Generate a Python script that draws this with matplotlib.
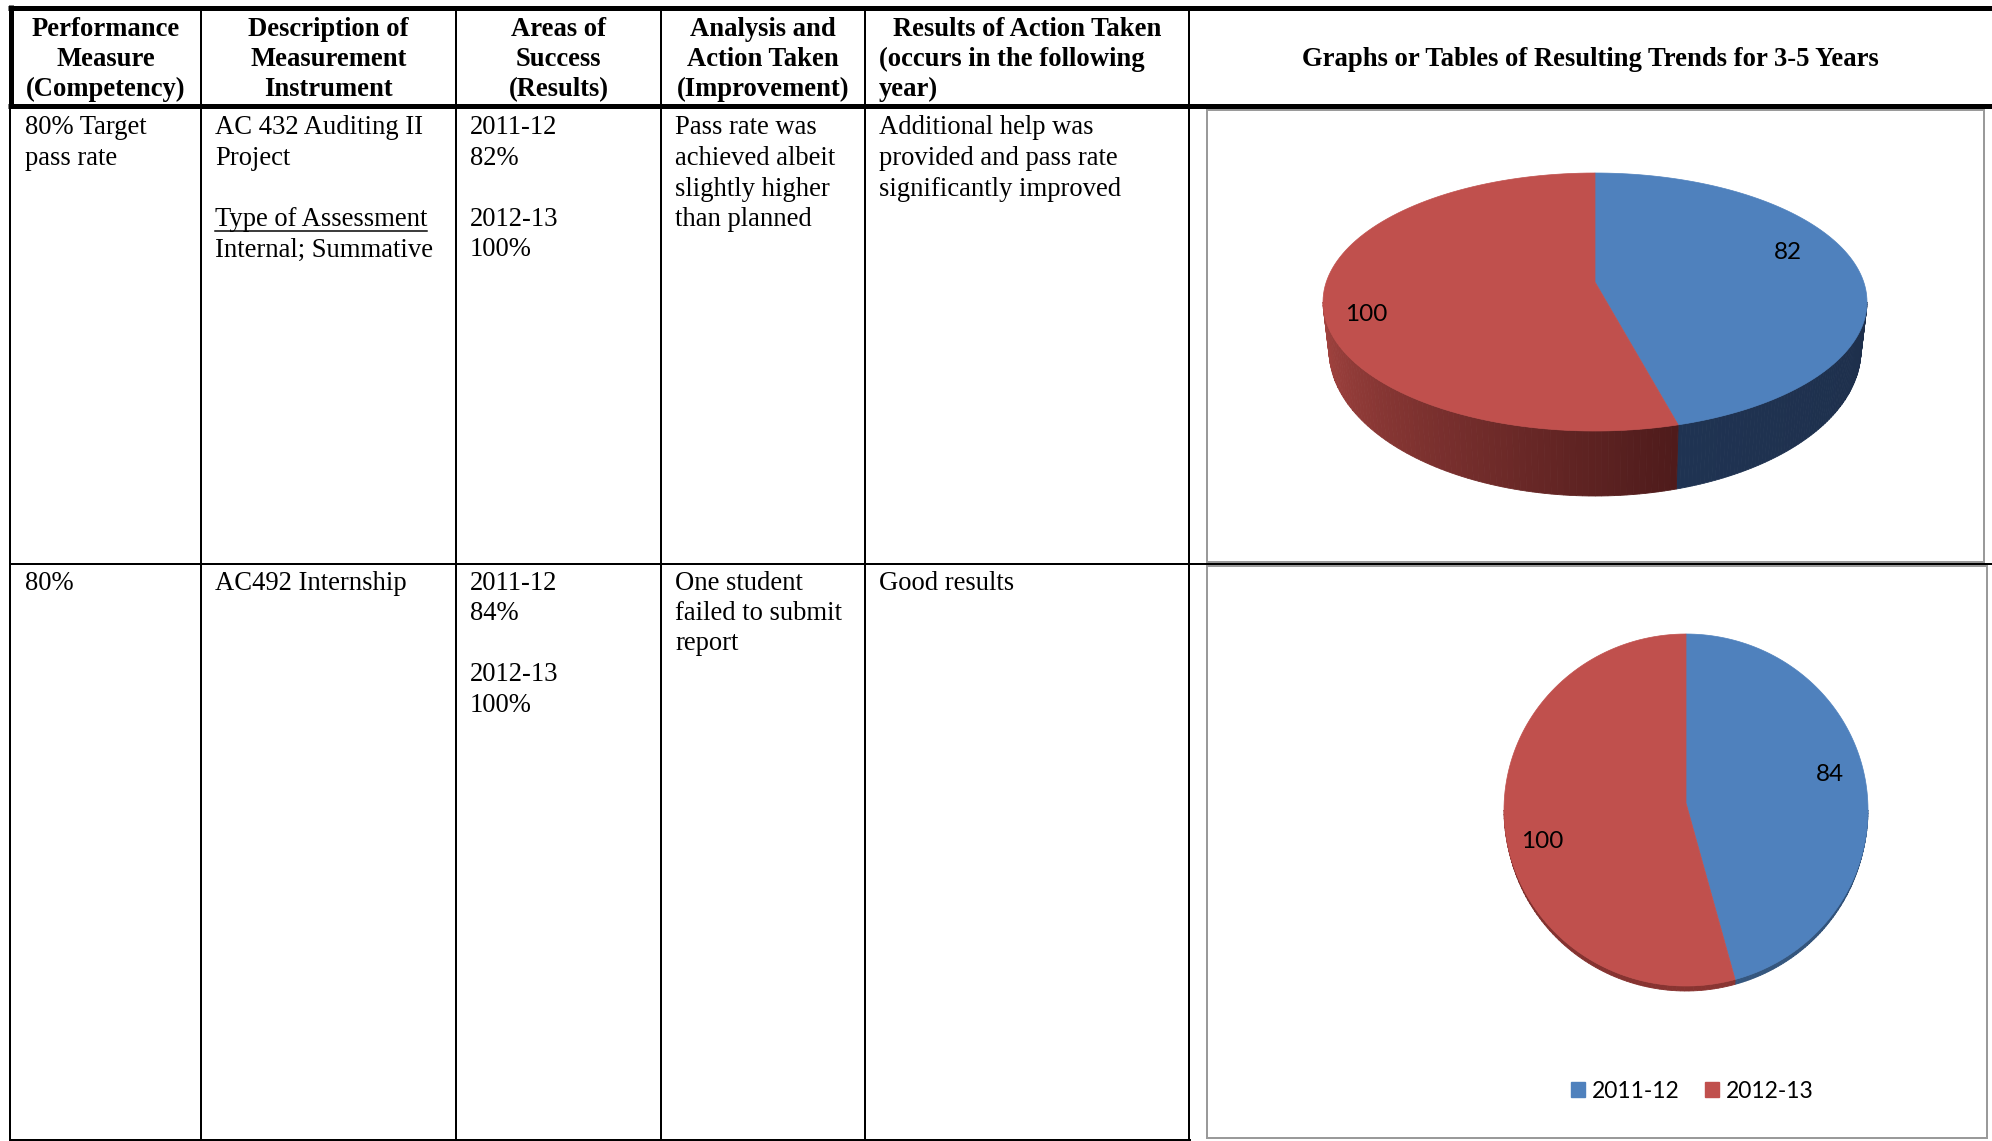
import matplotlib
matplotlib.use("Agg")
import matplotlib.pyplot as plt
import numpy as np
from matplotlib.patches import Polygon, Rectangle, Patch
from matplotlib.colors import to_rgb

# pass rates per academic year
years = ["2011-12", "2012-13"]
auditing_rates = [82, 100]
internship_rates = [84, 100]

slice_colors = ["#4F81BD", "#C0504D"]

header_lines = [
    ["Performance", "Measure", "(Competency)"],
    ["Description of", "Measurement", "Instrument"],
    ["Areas of", "Success", "(Results)"],
    ["Analysis and", "Action Taken", "(Improvement)"],
    ["Results of Action Taken", "(occurs in the following", "year)"],
    ["", "Graphs or Tables of Resulting Trends for 3-5 Years", ""],
]

auditing_row = [
    ["80% Target", "pass rate"],
    ["AC 432 Auditing II", "Project", "", "Type of Assessment", "Internal; Summative"],
    [years[0], f"{auditing_rates[0]}%", "", years[1], f"{auditing_rates[1]}%"],
    ["Pass rate was", "achieved albeit", "slightly higher", "than planned"],
    ["Additional help was", "provided and pass rate", "significantly improved"],
]

internship_row = [
    ["80%"],
    ["AC492 Internship"],
    [years[0], f"{internship_rates[0]}%", "", years[1], f"{internship_rates[1]}%"],
    ["One student", "failed to submit", "report"],
    ["Good results"],
]

W, H = 1992, 1141
col_edges = [10, 201, 456, 661, 865, 1189, 1992]
serif = "Liberation Serif"
fsize = 19.2
line_step = 30.5


def px(w):
    return w * 72 / 100


def mix(c0, c1, f):
    a, b = np.array(to_rgb(c0)), np.array(to_rgb(c1))
    return tuple(a + (b - a) * f)


def arc(cx, cy, a, b, t0, t1, n=120):
    t = np.radians(np.linspace(t0, t1, n))
    return np.column_stack([cx + a * np.cos(t), cy - b * np.sin(t)])


def draw_pie(ax, values, spec):
    cx, cy = spec["center"]
    a, b = spec["radii"]
    bx, by = spec["base_center"]
    ba, bb = spec["base_radii"]
    apex = (cx, cy + spec["apex_dy"])
    total = float(sum(values))
    edges = 90 - 360 * np.concatenate([[0], np.cumsum(values)]) / total

    # visible front wall, drawn as thin strips so it can be shaded
    for i in range(len(values)):
        lo, hi = max(edges[i + 1], -180), min(edges[i], 0)
        if hi <= lo:
            continue
        steps = np.linspace(lo, hi, 80)
        c0, c1 = spec["side"][i]
        for k in range(len(steps) - 1):
            top = arc(cx, cy, a, b, steps[k], steps[k + 1], 4)
            bot = arc(bx, by, ba, bb, steps[k + 1], steps[k], 4)
            col = mix(c0, c1, (k + 0.5) / (len(steps) - 1))
            ax.add_patch(Polygon(np.vstack([top, bot]), closed=True,
                                 fc=col, ec=col, lw=0.6))

    for i in range(len(values)):
        pts = np.vstack([[apex], arc(cx, cy, a, b, edges[i], edges[i + 1])])
        ax.add_patch(Polygon(pts, closed=True, fc=slice_colors[i],
                             ec=slice_colors[i], lw=0.5))

    for v, (dx, dy) in zip(values, spec["labels"]):
        ax.text(cx + dx * a, cy + dy * b, f"{v}", family="Lato", fontsize=17.5,
                ha="center", va="center", color="black")


fig = plt.figure(figsize=(W / 100, H / 100), dpi=100)
ax = fig.add_axes([0, 0, 1, 1])
ax.set_xlim(0, W)
ax.set_ylim(H, 0)
ax.axis("off")

# table rules
ax.plot([8, W], [7.5, 7.5], color="black", lw=px(5), solid_capstyle="butt")
ax.plot([8, W], [105.5, 105.5], color="black", lw=px(5), solid_capstyle="butt")
ax.plot([10.5, 10.5], [5, 108], color="black", lw=px(5), solid_capstyle="butt")
ax.plot([10, 10], [108, H - 1], color="black", lw=px(2))
for x in col_edges[1:-1]:
    ax.plot([x, x], [10, H - 1], color="black", lw=px(2))
ax.plot([10, W], [563.5, 563.5], color="black", lw=px(2))
ax.plot([10, 1190], [H - 1, H - 1], color="black", lw=px(2))

# chart frames
ax.add_patch(Rectangle((1207, 110), 1984 - 1207, 561.5 - 110, fill=False,
                       ec="#9A9A9A", lw=px(2)))
ax.add_patch(Rectangle((1207, 565.5), 1987 - 1207, 1138 - 565.5, fill=False,
                       ec="#9A9A9A", lw=px(2)))

# header
header_y = [27.5, 58, 88]
for c, lines in enumerate(header_lines):
    left, right = col_edges[c], col_edges[c + 1]
    for j, s in enumerate(lines):
        if not s:
            continue
        y = 57.5 if c == 5 else header_y[j]
        if c == 4 and j > 0:
            ax.text(879, y + 8.5, s, family=serif, fontsize=fsize,
                    weight="bold", ha="left", va="baseline")
        else:
            ax.text((left + right) / 2, y + 8.5, s, family=serif,
                    fontsize=fsize, weight="bold", ha="center",
                    va="baseline")

# body rows
text_x = [25, 215, 470, 675, 879]
underlined = []
for row, top in ((auditing_row, 126), (internship_row, 581)):
    for c, lines in enumerate(row):
        for j, s in enumerate(lines):
            if not s:
                continue
            t = ax.text(text_x[c], top + j * line_step + 8.5, s, family=serif,
                        fontsize=fsize, ha="left", va="baseline")
            if s == "Type of Assessment":
                underlined.append(t)

fig.canvas.draw()
renderer = fig.canvas.get_renderer()
for t in underlined:
    bb = t.get_window_extent(renderer)
    y = H - bb.y0 - 1
    ax.plot([bb.x0, bb.x1], [y, y], color="black", lw=px(1.5))

pie_specs = [
    dict(center=(1595, 302), radii=(272, 129), apex_dy=-20,
         base_center=(1595, 350), base_radii=(266, 146),
         side=[("#1F3352", "#1E2F4B"), ("#A64541", "#4E1B1B")],
         labels=[(0.71, -0.38), (-0.84, 0.1)]),
    dict(center=(1686, 810), radii=(182, 176), apex_dy=-7,
         base_center=(1686, 814), base_radii=(181, 177),
         side=[("#35577F", "#2F4E74"), ("#7E2E2C", "#8A3532")],
         labels=[(0.79, -0.2), (-0.79, 0.18)]),
]
draw_pie(ax, auditing_rates, pie_specs[0])
draw_pie(ax, internship_rates, pie_specs[1])

handles = [Patch(color=c, label=y) for c, y in zip(slice_colors, years)]
ax.legend(handles=handles, loc="center", bbox_to_anchor=(1692, 1091),
          bbox_transform=ax.transData, ncol=2, frameon=False,
          prop=dict(family="Lato", size=16.5), handlelength=0.62,
          handleheight=0.62, handletextpad=0.3, columnspacing=1.1,
          borderpad=0, borderaxespad=0)

fig.savefig("out.png", dpi=100, facecolor="white")
